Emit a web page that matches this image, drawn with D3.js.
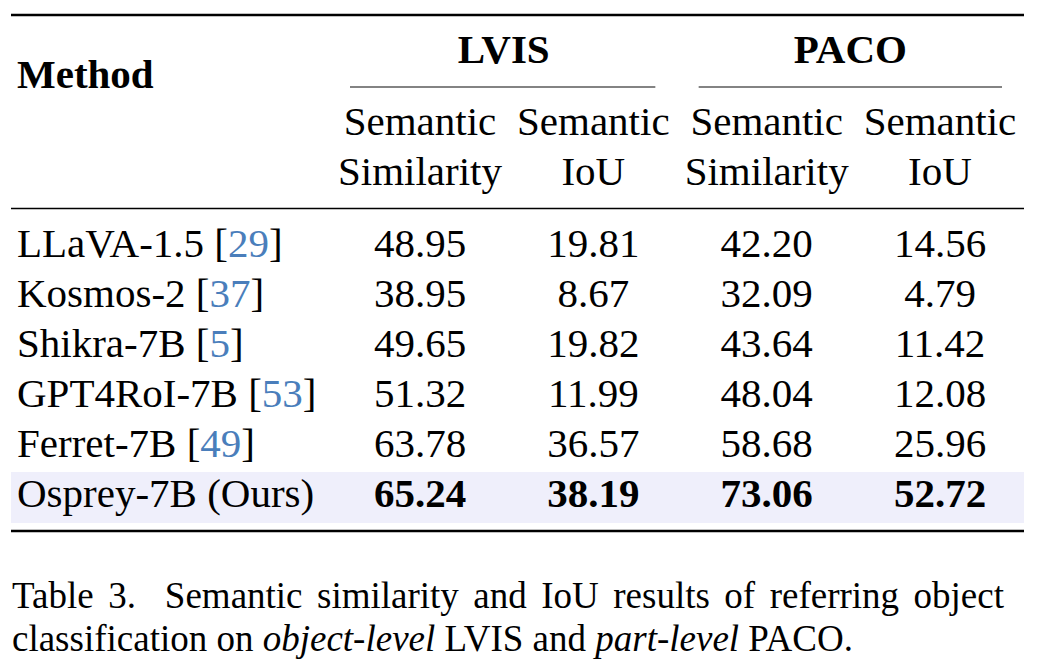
<!DOCTYPE html>
<head>
  <meta charset="utf-8">
  <script src="https://d3js.org/d3.v7.min.js"></script>
  <style>
    body { margin: 0; background: #fff; }
    svg text { font-family: "Liberation Serif", "Times New Roman", serif; fill: #000; }
  </style>
</head>

<body>
  <svg width="1044" height="668"></svg>

  <script>

  // table data
  var methods = ["LLaVA-1.5", "Kosmos-2", "Shikra-7B", "GPT4RoI-7B", "Ferret-7B", "Osprey-7B (Ours)"];
  var cites = ["29", "37", "5", "53", "49", null];
  var lvisSim = ["48.95", "38.95", "49.65", "51.32", "63.78", "65.24"];
  var lvisIoU = ["19.81", "8.67", "19.82", "11.99", "36.57", "38.19"];
  var pacoSim = ["42.20", "32.09", "43.64", "48.04", "58.68", "73.06"];
  var pacoIoU = ["14.56", "4.79", "11.42", "12.08", "25.96", "52.72"];
  var groups = ["LVIS", "PACO"];
  var subHeads = [["Semantic", "Similarity"], ["Semantic", "IoU"], ["Semantic", "Similarity"], ["Semantic", "IoU"]];
  var oursRow = 5;

  var svg = d3.select("svg"),
  width = +svg.attr("width"),
  height = +svg.attr("height");

  var fs = 41;
  var left = 11, right = 1024;

  var cols = [0, 1, 2, 3];
  var x = d3.scalePoint().domain(cols).range([420, 940]);
  var y = d3.scalePoint().domain(d3.range(methods.length)).range([257, 507]);
  var values = [lvisSim, lvisIoU, pacoSim, pacoIoU];

  // highlight band behind our row
  svg.append("rect")
  .attr("x", left)
  .attr("y", y(oursRow) - 35)
  .attr("width", right - left)
  .attr("height", 51)
  .attr("fill", "#efeffb");

  // rules
  function rule(y0, x0, x1, w, c) {
    svg.append("line")
    .attr("x1", x0).attr("x2", x1)
    .attr("y1", y0).attr("y2", y0)
    .attr("stroke", c || "#000")
    .attr("stroke-width", w);
  }
  rule(15, left, right, 2.6);
  rule(208.5, left, right, 1.6);
  rule(531, left, right, 2.6);
  rule(87, x(0) - 70, x(1) + 62, 1.5, "#5a5a5a");
  rule(87, x(2) - 68, x(3) + 62, 1.5, "#5a5a5a");

  // header
  svg.append("text")
  .attr("x", 17).attr("y", 88)
  .attr("font-size", fs).attr("font-weight", "bold")
  .text("Method");

  svg.selectAll("text.group")
  .data(groups)
  .enter().append("text")
  .attr("class", "group")
  .attr("x", function(d, i) { return (x(i * 2) + x(i * 2 + 1)) / 2 - 3; })
  .attr("y", 63)
  .attr("text-anchor", "middle")
  .attr("font-size", fs).attr("font-weight", "bold")
  .text(function(d) { return d; });

  var sub = svg.selectAll("text.sub")
  .data(subHeads)
  .enter().append("text")
  .attr("class", "sub")
  .attr("text-anchor", "middle")
  .attr("font-size", fs);
  sub.append("tspan")
  .attr("x", function(d, i) { return x(i); })
  .attr("y", 135)
  .text(function(d) { return d[0]; });
  sub.append("tspan")
  .attr("x", function(d, i) { return x(i); })
  .attr("y", 185)
  .text(function(d) { return d[1]; });

  // method names
  var names = svg.selectAll("text.method")
  .data(methods)
  .enter().append("text")
  .attr("class", "method")
  .attr("x", 17)
  .attr("y", function(d, i) { return y(i); })
  .attr("font-size", fs);
  names.append("tspan").text(function(d, i) { return cites[i] ? d + " [" : d; });
  names.append("tspan")
  .style("fill", "#4a7ebb")
  .text(function(d, i) { return cites[i] || ""; });
  names.append("tspan").text(function(d, i) { return cites[i] ? "]" : ""; });

  // values
  cols.forEach(function(c) {
    svg.selectAll("text.v" + c)
    .data(values[c])
    .enter().append("text")
    .attr("class", "v" + c)
    .attr("x", x(c))
    .attr("y", function(d, i) { return y(i); })
    .attr("text-anchor", "middle")
    .attr("font-size", fs)
    .attr("font-weight", function(d, i) { return i == oursRow ? "bold" : "normal"; })
    .text(function(d) { return d; });
  });

  // caption
  var capFs = 37;
  var line1 = svg.append("text")
  .attr("x", 12).attr("y", 608)
  .attr("font-size", capFs)
  .attr("xml:space", "preserve")
  .text("Table 3.  Semantic similarity and IoU results of referring object");
  // justify the first line like the paper does
  var w1 = line1.node().getComputedTextLength();
  var gaps = 10;
  line1.attr("word-spacing", (1004 - 12 - w1) / gaps);

  var line2 = svg.append("text")
  .attr("x", 12).attr("y", 651)
  .attr("font-size", capFs);
  line2.append("tspan").text("classification on ");
  line2.append("tspan").attr("font-style", "italic").text("object-level");
  line2.append("tspan").text(" LVIS and ");
  line2.append("tspan").attr("font-style", "italic").text("part-level");
  line2.append("tspan").text(" PACO.");

  </script>
</body>
